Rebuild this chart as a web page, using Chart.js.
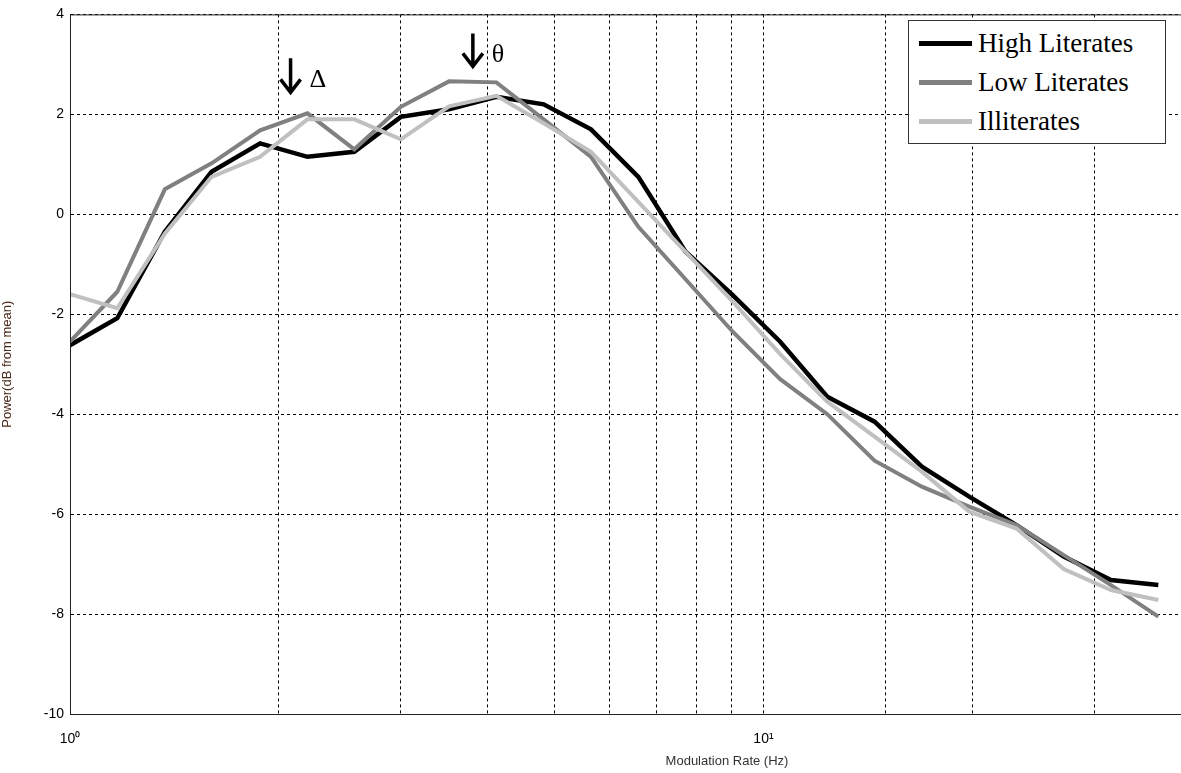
<!DOCTYPE html>
<html>
<head>
<meta charset="utf-8">
<title>Modulation spectrum</title>
<script src="https://cdn.jsdelivr.net/npm/chart.js@4.4.1/dist/chart.umd.min.js"></script>
<style>
  html, body { margin: 0; padding: 0; background: #fff; overflow: hidden; }
  #wrap { position: relative; width: 1181px; height: 773px; }
  #legend {
    position: absolute; left: 908px; top: 20px; width: 258px; height: 124px;
    border: 1px solid #333; background: #fff; box-sizing: border-box;
    font-family: "Liberation Serif", "Times New Roman", serif; font-size: 27px; color: #000;
  }
  #legend .row { position: absolute; left: 10px; height: 40px; display: flex; align-items: center; }
  #legend .swatch { width: 53px; height: 5px; margin-right: 6px; }
</style>
</head>
<body>
<div id="wrap">
  <canvas id="chart" width="1181" height="773"></canvas>
  <div id="legend"></div>
</div>
<script>
// modulation rates (Hz)
const rates = [1, 1.17, 1.37, 1.6, 1.88, 2.2, 2.57, 3.0, 3.52, 4.12, 4.82, 5.64,
  6.6, 7.72, 9.03, 10.57, 12.36, 14.46, 16.92, 19.8, 23.17, 27.1, 31.7, 37.1];

const highLiterates = [-2.62, -2.08, -0.35, 0.85, 1.42, 1.15, 1.25, 1.95, 2.1, 2.35, 2.2, 1.7,
  0.75, -0.75, -1.62, -2.55, -3.65, -4.15, -5.05, -5.65, -6.22, -6.85, -7.32, -7.42];
const lowLiterates = [-2.55, -1.55, 0.5, 1.02, 1.68, 2.02, 1.3, 2.15, 2.66, 2.64, 1.9, 1.15,
  -0.25, -1.3, -2.35, -3.3, -4.0, -4.93, -5.45, -5.85, -6.22, -6.82, -7.42, -8.05];
const illiterates = [-1.6, -1.88, -0.39, 0.75, 1.15, 1.9, 1.9, 1.5, 2.16, 2.37, 1.82, 1.25,
  0.25, -0.75, -1.75, -2.8, -3.75, -4.45, -5.15, -5.95, -6.29, -7.1, -7.52, -7.72];

const seriesNames = ['High Literates', 'Low Literates', 'Illiterates'];
const seriesColors = ['#000000', '#808080', '#c0c0c0'];
const seriesValues = [highLiterates, lowLiterates, illiterates];

// band markers: [label, rate, arrow top, arrow tip]
const bandMarks = [['Δ', 2.08, 3.12, 2.44], ['θ', 3.81, 3.62, 2.96]];

const yTicks = [-10, -8, -6, -4, -2, 0, 2, 4];

// legend as html box in the top right corner
const legendEl = document.getElementById('legend');
seriesNames.forEach((name, i) => {
  const row = document.createElement('div');
  row.className = 'row';
  row.style.top = (2 + i * 39) + 'px';
  row.innerHTML = `<span class="swatch" style="background:${seriesColors[i]}"></span>${name}`;
  legendEl.appendChild(row);
});

const boxAndMarks = {
  id: 'boxAndMarks',
  afterDraw(chart) {
    const { ctx, chartArea: a, scales } = chart;
    ctx.save();
    // axes box
    ctx.strokeStyle = '#222';
    ctx.lineWidth = 1;
    ctx.setLineDash([]);
    ctx.strokeRect(a.left + 0.5, a.top + 0.5, a.right - a.left, a.bottom - a.top);

    // arrows with band labels
    bandMarks.forEach(([label, rate, top, tip]) => {
      const x = scales.x.getPixelForValue(rate);
      const y1 = scales.y.getPixelForValue(top);
      const y2 = scales.y.getPixelForValue(tip);
      ctx.strokeStyle = '#000';
      ctx.lineWidth = 3.5;
      ctx.beginPath();
      ctx.moveTo(x, y1);
      ctx.lineTo(x, y2 - 2);
      ctx.moveTo(x - 10, y2 - 13);
      ctx.lineTo(x, y2);
      ctx.lineTo(x + 10, y2 - 13);
      ctx.stroke();
      ctx.fillStyle = '#000';
      ctx.font = '26px "Liberation Serif", "Times New Roman", serif';
      ctx.textBaseline = 'alphabetic';
      ctx.fillText(label, x + 19, y1 + 29);
    });

    // x axis title, placed as in the original figure
    ctx.fillStyle = '#333';
    ctx.font = '13px "Liberation Sans", Arial, sans-serif';
    ctx.textAlign = 'center';
    ctx.fillText('Modulation Rate (Hz)', 727, 765);
    ctx.restore();
  }
};

new Chart(document.getElementById('chart'), {
  type: 'line',
  data: {
    labels: rates,
    datasets: seriesNames.map((name, i) => ({
      label: name,
      data: rates.map((r, j) => ({ x: r, y: seriesValues[i][j] })),
      borderColor: seriesColors[i],
      borderWidth: i === 0 ? 4.5 : 4,
      pointRadius: 0,
      tension: 0,
      fill: false
    })).reverse()
  },
  options: {
    responsive: false,
    animation: false,
    layout: { padding: { top: 14, right: 0, left: 0, bottom: 0 } },
    plugins: {
      legend: { display: false },
      tooltip: { enabled: false }
    },
    scales: {
      x: {
        type: 'logarithmic',
        min: 1,
        max: 40,
        afterFit(scale) {
          scale.height = 59;
          scale.paddingLeft = 0;
          scale.paddingRight = 0;
        },
        grid: { color: '#000', lineWidth: 1, drawTicks: false },
        border: { display: true, color: '#222', dash: [3, 3] },
        ticks: {
          autoSkip: false,
          maxRotation: 0,
          padding: 17,
          color: '#000',
          font: { family: '"Liberation Sans", Arial, sans-serif', size: 14 },
          callback: v => (v === 1 ? '10⁰' : v === 10 ? '10¹' : '')
        }
      },
      y: {
        min: -10,
        max: 4,
        afterFit(scale) { scale.width = 70; },
        afterBuildTicks(scale) { scale.ticks = yTicks.map(v => ({ value: v })); },
        grid: { color: '#000', lineWidth: 1, drawTicks: false },
        border: { display: true, color: '#222', dash: [3, 3] },
        title: {
          display: true,
          text: 'Power(dB from mean)',
          color: '#4a2a1a',
          font: { family: '"Liberation Sans", Arial, sans-serif', size: 13 },
          padding: { top: 0, bottom: 16 }
        },
        ticks: {
          padding: 6,
          color: '#000',
          font: { family: '"Liberation Sans", Arial, sans-serif', size: 14 }
        }
      }
    }
  },
  plugins: [boxAndMarks]
});
</script>
</body>
</html>
